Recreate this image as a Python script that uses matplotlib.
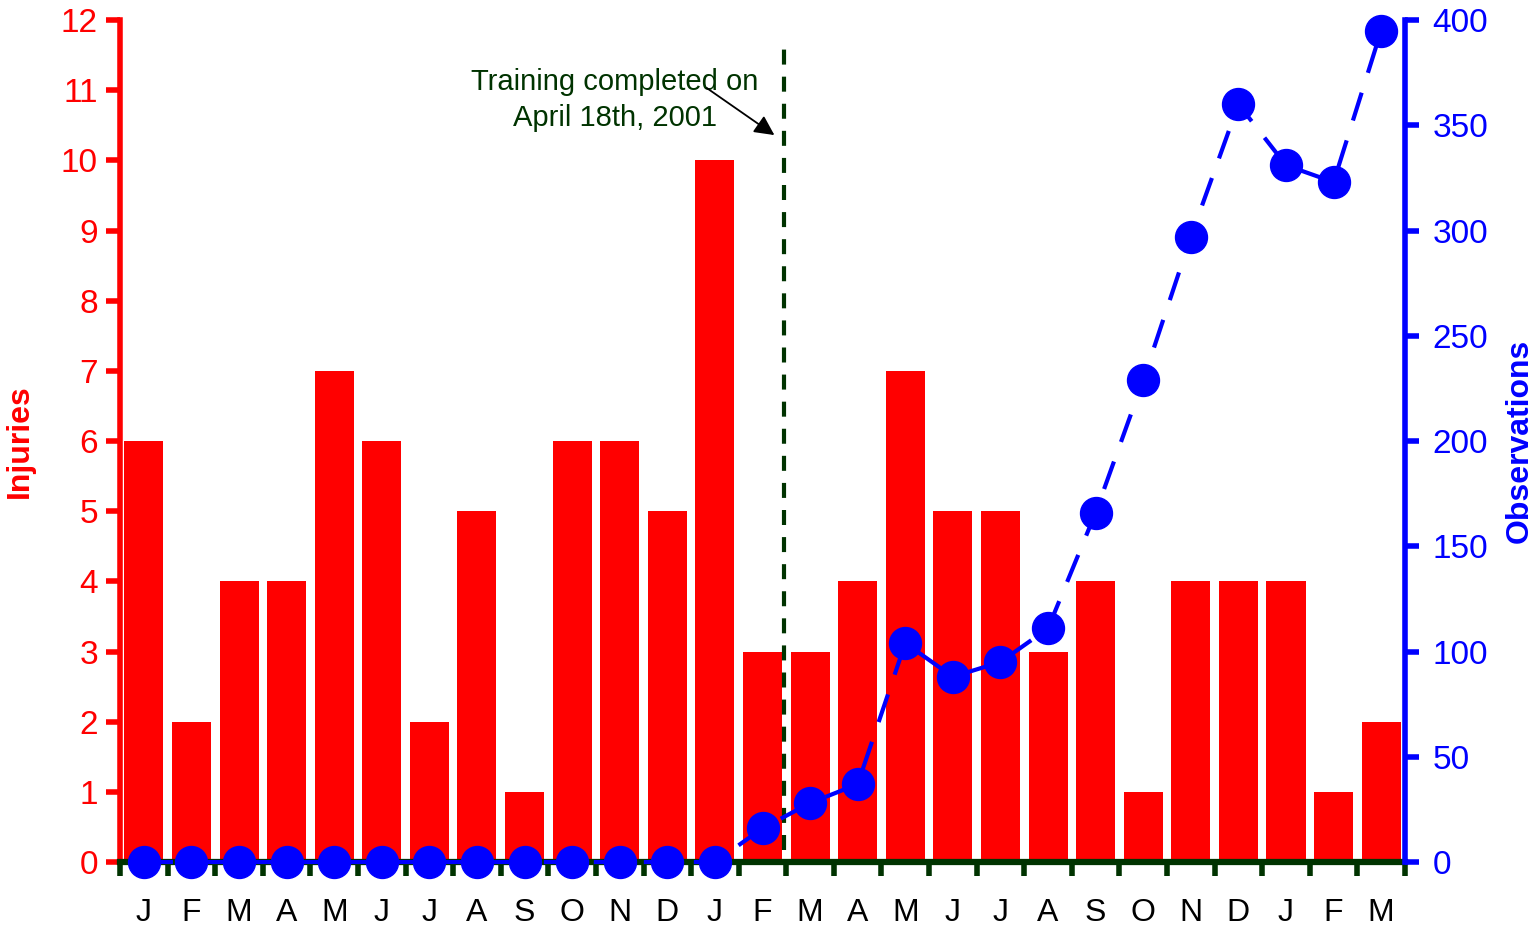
import matplotlib
matplotlib.use("Agg")
import matplotlib.pyplot as plt
import numpy as np

plt.rcParams['font.family'] = ['Liberation Sans', 'DejaVu Sans']

months = ["J", "F", "M", "A", "M", "J", "J", "A", "S", "O", "N", "D",
          "J", "F", "M", "A", "M", "J", "J", "A", "S", "O", "N", "D",
          "J", "F", "M"]
injuries = [6, 2, 4, 4, 7, 6, 2, 5, 1, 6, 6, 5,
            10, 3, 3, 4, 7, 5, 5, 3, 4, 1, 4, 4,
            4, 1, 2]
observations = [0, 0, 0, 0, 0, 0, 0, 0, 0, 0, 0, 0,
                0, 16, 28, 37, 104, 88, 95, 111, 166, 229, 297, 360,
                331, 323, 395]

DARK_GREEN = '#003300'
x = np.arange(len(months))

fig = plt.figure(figsize=(15.37, 9.27), dpi=100)
ax = fig.add_axes([0.0781, 0.0701, 0.9141 - 0.0781, 0.9784 - 0.0701])

ax.bar(x, injuries, width=0.82, color='#ff0000', zorder=2)
ax.set_xlim(-0.5, len(months) - 0.5)
ax.set_ylim(0, 12)
ax.set_yticks(range(0, 13))
ax.tick_params(axis='y', colors='#ff0000', labelsize=24, width=4, length=10, direction='out', pad=6)
ax.set_ylabel("Injuries", color='#ff0000', fontsize=23, fontweight='bold', labelpad=19)

# month labels at centers, tick marks at month boundaries
ax.set_xticks(x)
ax.set_xticklabels(months, fontsize=23)
ax.tick_params(axis='x', which='major', length=0, pad=26)
ax.set_xticks(np.arange(-0.5, len(months)), minor=True)
ax.tick_params(axis='x', which='minor', length=10, width=4, color=DARK_GREEN, direction='out')

ax.spines['top'].set_visible(False)
ax.spines['right'].set_visible(False)
ax.spines['left'].set_color('#ff0000')
ax.spines['left'].set_linewidth(4)
ax.spines['bottom'].set_color(DARK_GREEN)
ax.spines['bottom'].set_linewidth(4.5)
ax.spines['bottom'].set_zorder(3)

# training line
ax.plot([13.45, 13.45], [0.17, 11.64], color=DARK_GREEN, linestyle=(0, (3.6, 2.9)), linewidth=3, zorder=3)
ax.text(9.9, 10.86, "Training completed on\nApril 18th, 2001", ha='center', va='center',
        fontsize=21, color=DARK_GREEN, linespacing=1.35)
ax.annotate("", xy=(13.25, 10.36), xytext=(11.83, 11.03),
            arrowprops=dict(arrowstyle='-|>', color='black', lw=1.3, mutation_scale=30,
                            shrinkA=0, shrinkB=0))

ax2 = ax.twinx()
ax2.plot(x, observations, color='#0000ff', linestyle=(0, (7, 5)), linewidth=3,
         marker='o', markersize=23, zorder=4, clip_on=False)
ax2.set_ylim(0, 400)
ax2.set_yticks(range(0, 401, 50))
ax2.tick_params(axis='y', colors='#0000ff', labelsize=24, width=4, length=10, direction='out', pad=10)
ax2.set_ylabel("Observations", color='#0000ff', fontsize=23, fontweight='bold', labelpad=12)
ax2.spines['top'].set_visible(False)
ax2.spines['left'].set_visible(False)
ax2.spines['bottom'].set_visible(False)
ax2.spines['right'].set_color('#0000ff')
ax2.spines['right'].set_linewidth(4)

fig.savefig("out.png", dpi=100)
